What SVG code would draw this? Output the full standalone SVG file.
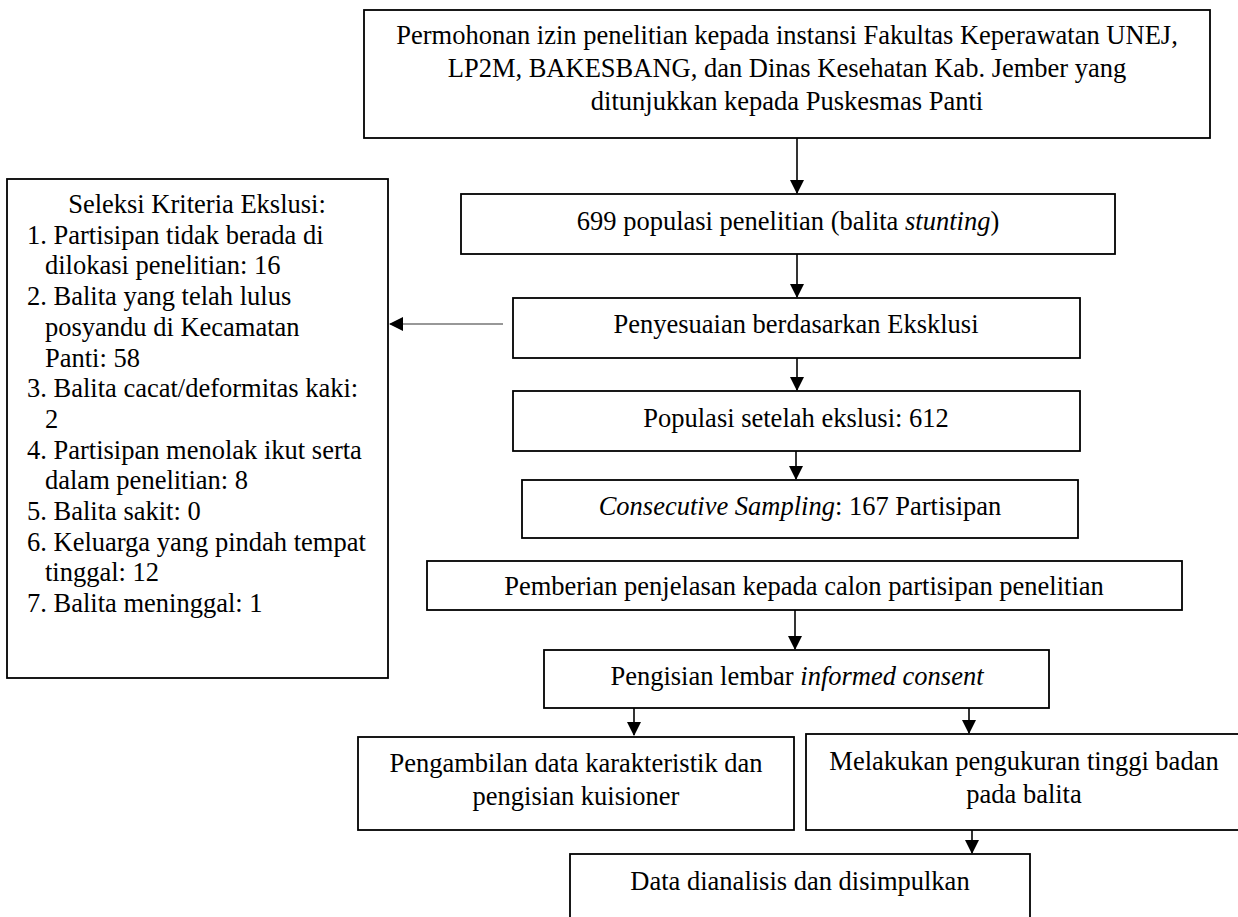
<svg xmlns="http://www.w3.org/2000/svg" width="1238" height="917" viewBox="0 0 1238 917">
<defs>
<style>
.box{fill:#fff;stroke:#000;stroke-width:1.8}
.t{font-size:26.5px;fill:#000}
.c{text-anchor:middle}
.i{font-style:italic}
.ln{stroke:#000;stroke-width:1.6;fill:none}
.lg{stroke:#333;stroke-width:1.2;fill:none}
</style>
<marker id="ah" markerWidth="14" markerHeight="14" refX="13" refY="7" orient="auto" markerUnits="userSpaceOnUse">
<path d="M0,0 L14,7 L0,14 Z" fill="#000"/>
</marker>
</defs>
<rect width="1238" height="917" fill="#fff"/>
<g id="connectors">
<line class="ln" x1="797" y1="138" x2="797" y2="193" marker-end="url(#ah)"/>
<line class="ln" x1="797" y1="254" x2="797" y2="297" marker-end="url(#ah)"/>
<line class="lg" x1="503" y1="324" x2="390" y2="324" marker-end="url(#ah)"/>
<line class="ln" x1="797" y1="358" x2="797" y2="390" marker-end="url(#ah)"/>
<line class="ln" x1="796" y1="451" x2="796" y2="479" marker-end="url(#ah)"/>
<line class="ln" x1="795" y1="610" x2="795" y2="649" marker-end="url(#ah)"/>
<line class="ln" x1="634" y1="708" x2="634" y2="735" marker-end="url(#ah)"/>
<line class="ln" x1="969" y1="708" x2="969" y2="733" marker-end="url(#ah)"/>
<line class="ln" x1="972" y1="830" x2="972" y2="853" marker-end="url(#ah)"/>
</g>
<g font-family="'Liberation Serif', 'Times New Roman', Tinos, serif">
<g id="n1">
<rect class="box" x="364" y="10" width="846" height="128"/>
<text class="t c" x="787" y="44">Permohonan izin penelitian kepada instansi Fakultas Keperawatan UNEJ,</text>
<text class="t c" x="787" y="77">LP2M, BAKESBANG, dan Dinas Kesehatan Kab. Jember yang</text>
<text class="t c" x="787" y="110">ditunjukkan kepada Puskesmas Panti</text>
</g>
<g id="n2">
<rect class="box" x="461" y="194" width="654" height="60"/>
<text class="t c" x="788" y="230">699 populasi penelitian (balita <tspan class="i">stunting</tspan>)</text>
</g>
<g id="n-exclusion">
<rect class="box" x="7" y="179" width="381" height="499"/>
<text class="t c" x="197" y="213">Seleksi Kriteria Ekslusi:</text>
<text class="t" x="27" y="244">1. Partisipan tidak berada di</text>
<text class="t" x="45" y="274">dilokasi penelitian: 16</text>
<text class="t" x="27" y="305">2. Balita yang telah lulus</text>
<text class="t" x="45" y="336">posyandu di Kecamatan</text>
<text class="t" x="45" y="367">Panti: 58</text>
<text class="t" x="27" y="397">3. Balita cacat/deformitas kaki:</text>
<text class="t" x="45" y="428">2</text>
<text class="t" x="27" y="459">4. Partisipan menolak ikut serta</text>
<text class="t" x="45" y="489">dalam penelitian: 8</text>
<text class="t" x="27" y="520">5. Balita sakit: 0</text>
<text class="t" x="27" y="551">6. Keluarga yang pindah tempat</text>
<text class="t" x="45" y="581">tinggal: 12</text>
<text class="t" x="27" y="612">7. Balita meninggal: 1</text>
</g>
<g id="n3">
<rect class="box" x="513" y="298" width="567" height="60"/>
<text class="t c" x="796" y="333">Penyesuaian berdasarkan Eksklusi</text>
</g>
<g id="n4">
<rect class="box" x="513" y="391" width="567" height="60"/>
<text class="t c" x="796" y="427">Populasi setelah ekslusi: 612</text>
</g>
<g id="n5">
<rect class="box" x="522" y="480" width="556" height="58"/>
<text class="t c" x="800" y="515"><tspan class="i">Consecutive Sampling</tspan>: 167 Partisipan</text>
</g>
<g id="n6">
<rect class="box" x="427" y="561" width="755" height="49"/>
<text class="t c" x="804" y="595">Pemberian penjelasan kepada calon partisipan penelitian</text>
</g>
<g id="n7">
<rect class="box" x="544" y="650" width="505" height="58"/>
<text class="t c" x="797" y="685">Pengisian lembar <tspan class="i">informed consent</tspan></text>
</g>
<g id="n8">
<rect class="box" x="358" y="737" width="436" height="93"/>
<text class="t c" x="576" y="772">Pengambilan data karakteristik dan</text>
<text class="t c" x="576" y="805">pengisian kuisioner</text>
</g>
<g id="n9">
<rect class="box" x="806" y="734" width="436" height="96"/>
<text class="t c" x="1024" y="770">Melakukan pengukuran tinggi badan</text>
<text class="t c" x="1024" y="803">pada balita</text>
</g>
<g id="n10">
<rect class="box" x="570" y="854" width="460" height="80"/>
<text class="t c" x="800" y="890">Data dianalisis dan disimpulkan</text>
</g>
</g>
</svg>
